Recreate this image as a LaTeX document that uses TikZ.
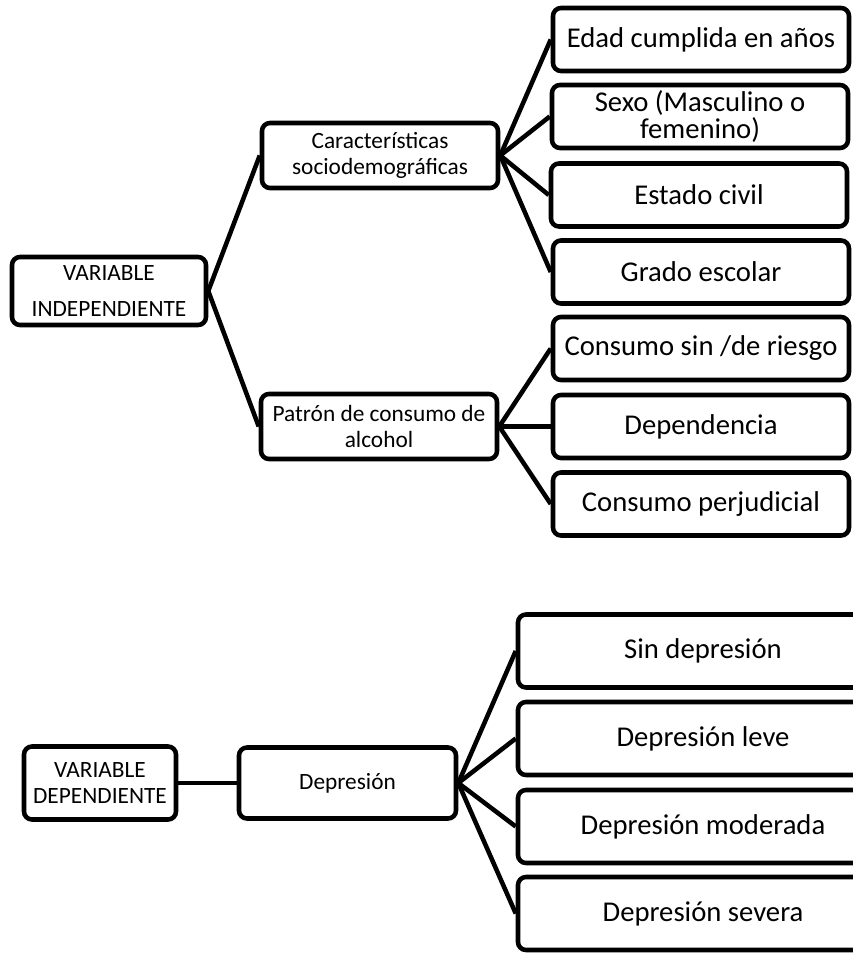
\documentclass[tikz,border=0pt]{standalone}
\usepackage{fontspec}
\setmainfont{Carlito}
\begin{document}
\begin{tikzpicture}[x=0.75pt,y=-0.75pt,
box/.style={draw,line width=3.4pt,rounded corners=6pt,align=center,inner sep=0pt},
small/.style={box,font=\fontsize{17.5}{19}\selectfont},
big/.style={box,font=\fontsize{21.5}{20.5}\selectfont},
mid/.style={small,minimum width=177pt,minimum height=48.75pt},
leaf/.style={big,minimum width=222pt,minimum height=47.25pt},
deep/.style={big,minimum width=277.5pt,minimum height=54.75pt},
link/.style={line width=3.4pt}]

\useasboundingbox (0,0) rectangle (853,953);

% independent variable
\node[small,font=\fontsize{17.5}{27}\selectfont,minimum width=145.5pt,minimum height=51pt](vi) at (109,291) {VARIABLE\\INDEPENDIENTE};

\node[mid](carac) at (380,155.5) {Características\\sociodemográficas};
\node[mid](patron) at (379,426.5) {Patrón de consumo de\\alcohol};

\node[leaf](edad) at (701,39.5) {Edad cumplida en años};
\node[leaf](sexo) at (700,116.5) {Sexo (Masculino o\\femenino)};
\node[leaf](civil) at (699,195) {Estado civil};
\node[leaf](grado) at (701,272) {Grado escolar};

\node[leaf](riesgo) at (701,348.5) {Consumo sin /de riesgo};
\node[leaf](depend) at (701,426.5) {Dependencia};
\node[leaf](perjud) at (701,504) {Consumo perjudicial};

\draw[link] (vi.east) -- (carac.west);
\draw[link] (vi.east) -- (patron.west);

\draw[link] (carac.east) -- (edad.west);
\draw[link] (carac.east) -- (sexo.west);
\draw[link] (carac.east) -- (civil.west);
\draw[link] (carac.east) -- (grado.west);

\draw[link] (patron.east) -- (riesgo.west);
\draw[link] (patron.east) -- (depend.west);
\draw[link] (patron.east) -- (perjud.west);

% dependent variable
\node[small,minimum width=114pt,minimum height=54.75pt](vd) at (100,783) {VARIABLE\\DEPENDIENTE};
\node[small,minimum width=162.75pt,minimum height=53.25pt](depre) at (347.5,783) {Depresión};

\node[deep](sin) at (703,651) {Sin depresión};
\node[deep](leve) at (703,738.5) {Depresión leve};
\node[deep](moder) at (703,826.5) {Depresión moderada};
\node[deep](severa) at (703,913.5) {Depresión severa};

\draw[link] (vd.east) -- (depre.west);
\draw[link] (depre.east) -- (sin.west);
\draw[link] (depre.east) -- (leve.west);
\draw[link] (depre.east) -- (moder.west);
\draw[link] (depre.east) -- (severa.west);
\end{tikzpicture}
\end{document}
